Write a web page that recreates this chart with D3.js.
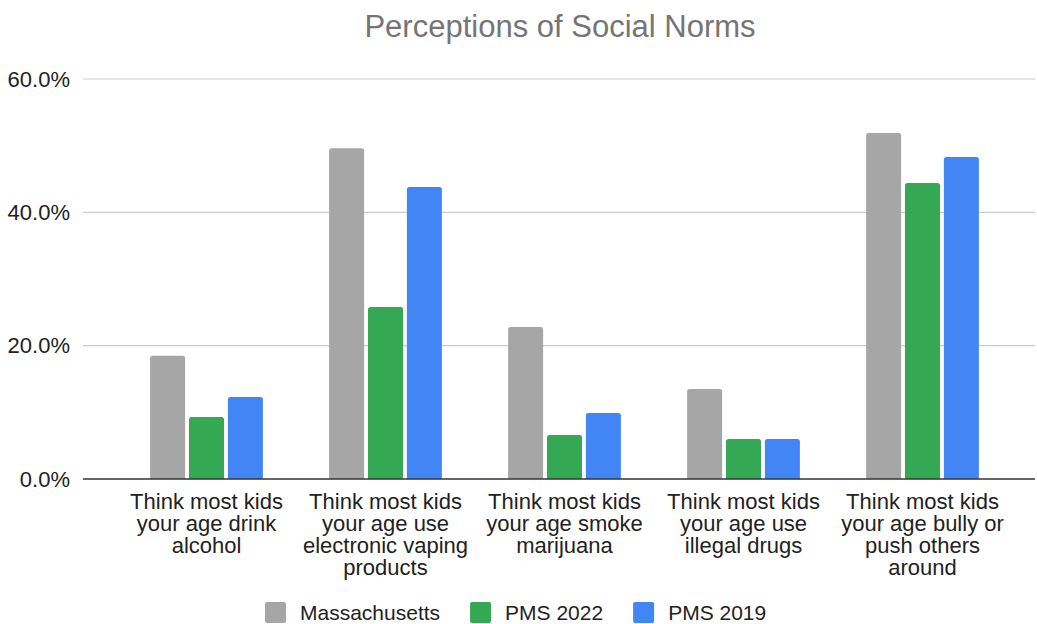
<!DOCTYPE html>
<html>
<head>
<meta charset="utf-8">
<script src="https://cdn.jsdelivr.net/npm/d3@7"></script>
<style>
  body { margin: 0; background: #fff; }
  text { font-family: "Liberation Sans", Arial, sans-serif; }
</style>
</head>
<body>
<div id="chart"></div>
<script>
const width = 1037;
const height = 624;

// data
const categories = [
  "Think most kids your age drink alcohol",
  "Think most kids your age use electronic vaping products",
  "Think most kids your age smoke marijuana",
  "Think most kids your age use illegal drugs",
  "Think most kids your age bully or push others around"
];
const seriesNames = ["Massachusetts", "PMS 2022", "PMS 2019"];
const massachusetts = [18.5, 49.6, 22.8, 13.5, 51.9];
const pms2022 = [9.3, 25.8, 6.6, 6.0, 44.4];
const pms2019 = [12.3, 43.8, 9.9, 6.0, 48.3];
const yTicks = [0, 20, 40, 60];
const colors = ["#a6a6a6", "#34a853", "#4285f4"];

const seriesValues = [massachusetts, pms2022, pms2019];

const svg = d3.select("#chart")
  .append("svg")
  .attr("width", width)
  .attr("height", height);

const y = d3.scaleLinear().domain([0, 60]).range([479, 79]);

const x0 = d3.scaleBand()
  .domain(categories)
  .range([117, 1012])
  .paddingInner(0.37)
  .paddingOuter(0.185);

const x1 = d3.scaleBand()
  .domain(seriesNames)
  .range([0, x0.bandwidth()])
  .paddingInner(0.1);

// title
svg.append("text")
  .attr("x", 560)
  .attr("y", 37)
  .attr("text-anchor", "middle")
  .attr("font-size", "31px")
  .attr("fill", "#757575")
  .text("Perceptions of Social Norms");

// grid
const grid = svg.append("g");
grid.selectAll("line")
  .data(yTicks.filter(d => d !== 0))
  .enter()
  .append("line")
  .attr("x1", 83)
  .attr("x2", 1035)
  .attr("y1", d => y(d))
  .attr("y2", d => y(d))
  .attr("stroke", "#cccccc")
  .attr("stroke-width", 1.2);

// y axis labels
const yAxis = d3.axisLeft(y)
  .tickValues(yTicks)
  .tickSize(0)
  .tickPadding(0)
  .tickFormat(d => d.toFixed(1) + "%");

const yG = svg.append("g")
  .attr("transform", "translate(70,0)")
  .call(yAxis);
yG.select(".domain").remove();
yG.selectAll("text")
  .attr("font-size", "22px")
  .attr("font-family", "Liberation Sans, Arial, sans-serif")
  .attr("fill", "#222");

// bars
const rows = categories.map((c, i) => ({
  category: c,
  values: seriesNames.map((s, j) => ({ series: s, value: seriesValues[j][i], color: colors[j] }))
}));

const groups = svg.append("g")
  .selectAll("g")
  .data(rows)
  .enter()
  .append("g")
  .attr("transform", d => `translate(${x0(d.category)},0)`);

groups.selectAll("path")
  .data(d => d.values)
  .enter()
  .append("path")
  .attr("fill", d => d.color)
  .attr("d", d => {
    const bx = x1(d.series), bw = x1.bandwidth();
    const top = y(d.value), bottom = y(0), r = 2.5;
    return `M${bx},${bottom}V${top + r}Q${bx},${top} ${bx + r},${top}` +
      `H${bx + bw - r}Q${bx + bw},${top} ${bx + bw},${top + r}V${bottom}Z`;
  });

// zero line
svg.append("line")
  .attr("x1", 83)
  .attr("x2", 1035)
  .attr("y1", y(0))
  .attr("y2", y(0))
  .attr("stroke", "#333")
  .attr("stroke-width", 1.5);

// x axis labels
const xAxis = d3.axisBottom(x0).tickSize(0).tickPadding(0);
const xG = svg.append("g")
  .attr("transform", `translate(0,${y(0)})`)
  .call(xAxis);
xG.select(".domain").remove();
xG.selectAll("text")
  .attr("font-size", "22px")
  .attr("font-family", "Liberation Sans, Arial, sans-serif")
  .attr("fill", "#222")
  .attr("dy", null)
  .attr("y", 30)
  .call(wrap, 170);

function wrap(textSel, maxWidth) {
  textSel.each(function () {
    const text = d3.select(this);
    const words = text.text().split(/\s+/);
    text.text(null);
    let line = [];
    let lineNo = 0;
    let tspan = text.append("tspan").attr("x", 0).attr("y", 30);
    words.forEach(w => {
      line.push(w);
      tspan.text(line.join(" "));
      if (tspan.node().getComputedTextLength() > maxWidth && line.length > 1) {
        line.pop();
        tspan.text(line.join(" "));
        line = [w];
        lineNo++;
        tspan = text.append("tspan")
          .attr("x", 0)
          .attr("y", 30 + lineNo * 22)
          .text(w);
      }
    });
  });
}

// legend
const legend = svg.append("g").attr("transform", "translate(265,602)");
let lx = 0;
seriesNames.forEach((name, i) => {
  const item = legend.append("g").attr("transform", `translate(${lx},0)`);
  item.append("rect")
    .attr("width", 21)
    .attr("height", 21)
    .attr("rx", 2)
    .attr("fill", colors[i]);
  const t = item.append("text")
    .attr("x", 35)
    .attr("y", 18)
    .attr("font-size", "21px")
    .attr("fill", "#222")
    .text(name);
  lx += 35 + t.node().getComputedTextLength() + 30;
});
</script>
</body>
</html>
